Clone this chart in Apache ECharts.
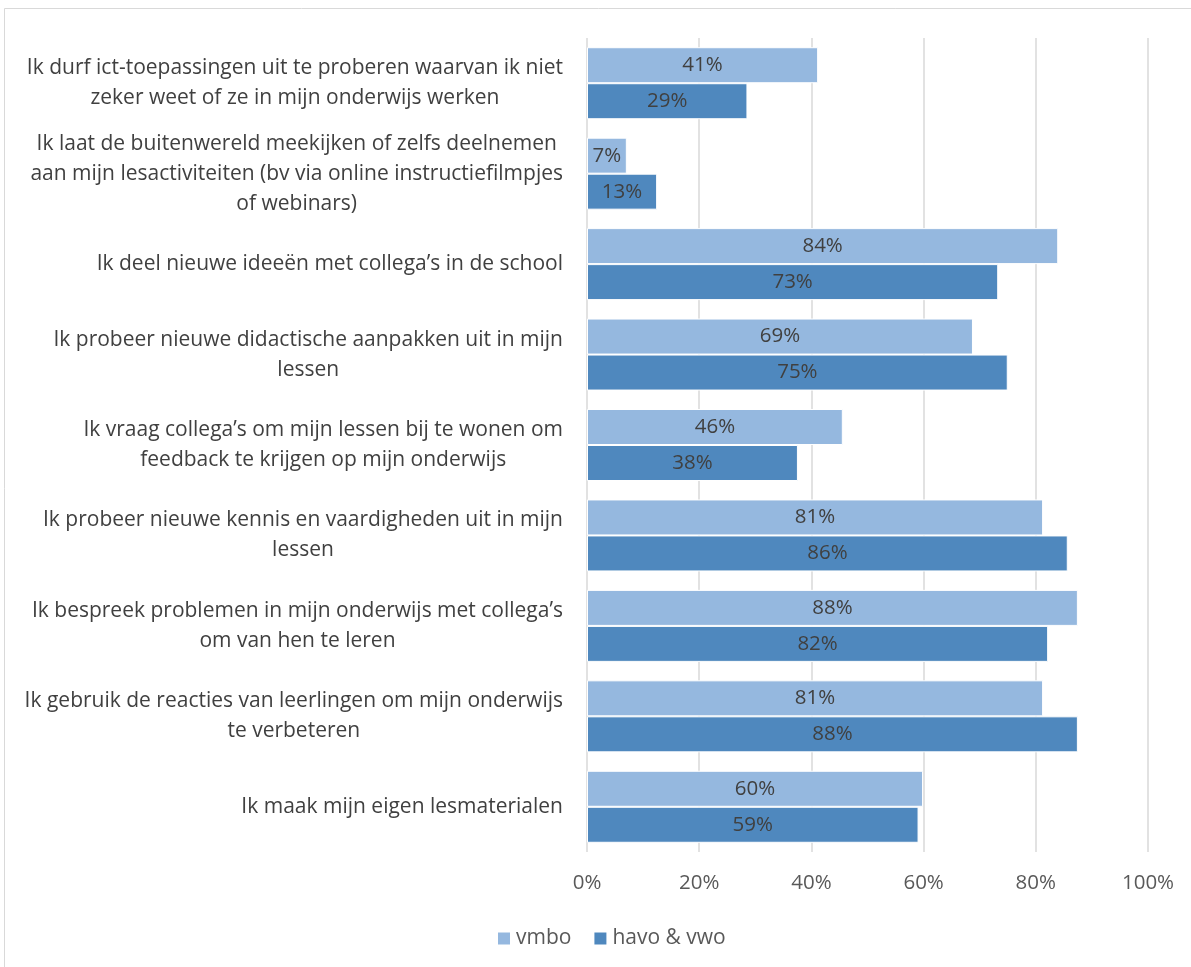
<!DOCTYPE html>
<html>
<head>
<meta charset="utf-8">
<script src="https://cdn.jsdelivr.net/npm/echarts@6/dist/echarts.min.js"></script>
<style>
  html, body { margin: 0; padding: 0; background: #fff; }
  #chart { width: 1191px; height: 967px; }
</style>
</head>
<body>
<div id="chart"></div>
<script>
const categories = [
  'Ik durf ict-toepassingen uit te proberen waarvan ik niet\nzeker weet of ze in mijn onderwijs werken',
  'Ik laat de buitenwereld meekijken of zelfs deelnemen\naan mijn lesactiviteiten (bv via online instructiefilmpjes\nof webinars)',
  'Ik deel nieuwe ideeën met collega’s in de school',
  'Ik probeer nieuwe didactische aanpakken uit in mijn\nlessen',
  'Ik vraag collega’s om mijn lessen bij te wonen om\nfeedback te krijgen op mijn onderwijs',
  'Ik probeer nieuwe kennis en vaardigheden uit in mijn\nlessen',
  'Ik bespreek problemen in mijn onderwijs met collega’s\nom van hen te leren',
  'Ik gebruik de reacties van leerlingen om mijn onderwijs\nte verbeteren',
  'Ik maak mijn eigen lesmaterialen'
];
const vmbo = [41.2, 7.1, 84.0, 68.8, 45.6, 81.3, 87.5, 81.3, 59.9];
const havoVwo = [28.6, 12.5, 73.3, 75.0, 37.6, 85.7, 82.2, 87.5, 59.1];
const seriesNames = ['vmbo', 'havo & vwo'];

const FONT = '"Open Sans", "Liberation Sans", sans-serif';
const chart = echarts.init(document.getElementById('chart'));

const barLabel = {
  show: true,
  position: 'inside',
  color: '#404040',
  fontSize: 20.5,
  fontFamily: FONT,
  formatter: p => Math.round(p.value) + '%'
};

chart.setOption({
  animation: false,
  textStyle: { fontFamily: FONT },
  graphic: [{
    type: 'rect',
    shape: { x: 4.5, y: 8.5, width: 1200, height: 1000 },
    style: { fill: 'none', stroke: '#d9d9d9', lineWidth: 1 }
  }],
  grid: { left: 587, right: 43, top: 38, bottom: 115 },
  legend: {
    data: seriesNames,
    bottom: 13,
    left: 491,
    itemWidth: 14,
    itemHeight: 14,
    itemGap: 21,
    icon: 'rect',
    textStyle: { color: '#595959', fontSize: 21, fontFamily: FONT }
  },
  xAxis: {
    type: 'value',
    min: 0,
    max: 100,
    interval: 20,
    axisLine: { show: false },
    axisTick: { show: false },
    axisLabel: { color: '#595959', fontSize: 20.5, margin: 21, formatter: '{value}%' },
    splitLine: { lineStyle: { color: '#d9d9d9', width: 1.5 } }
  },
  yAxis: {
    type: 'category',
    inverse: true,
    data: categories,
    axisLine: { show: false },
    axisTick: { show: false },
    axisLabel: {
      margin: 24,
      align: 'right',
      color: '#404040',
      fontSize: 21,
      lineHeight: 30,
      formatter: v => v.split('\n').map(l => '{c|' + l + '}').join('\n'),
      rich: { c: { align: 'center', fontSize: 21, lineHeight: 30, color: '#404040' } }
    }
  },
  series: [
    {
      name: seriesNames[0],
      type: 'bar',
      data: vmbo,
      barWidth: 36,
      barGap: '0%',
      itemStyle: { color: '#95b8df', borderColor: '#ffffff', borderWidth: 1 },
      label: barLabel
    },
    {
      name: seriesNames[1],
      type: 'bar',
      data: havoVwo,
      barWidth: 36,
      barGap: '0%',
      itemStyle: { color: '#4f88be', borderColor: '#ffffff', borderWidth: 1 },
      label: barLabel
    }
  ]
});
</script>
</body>
</html>
